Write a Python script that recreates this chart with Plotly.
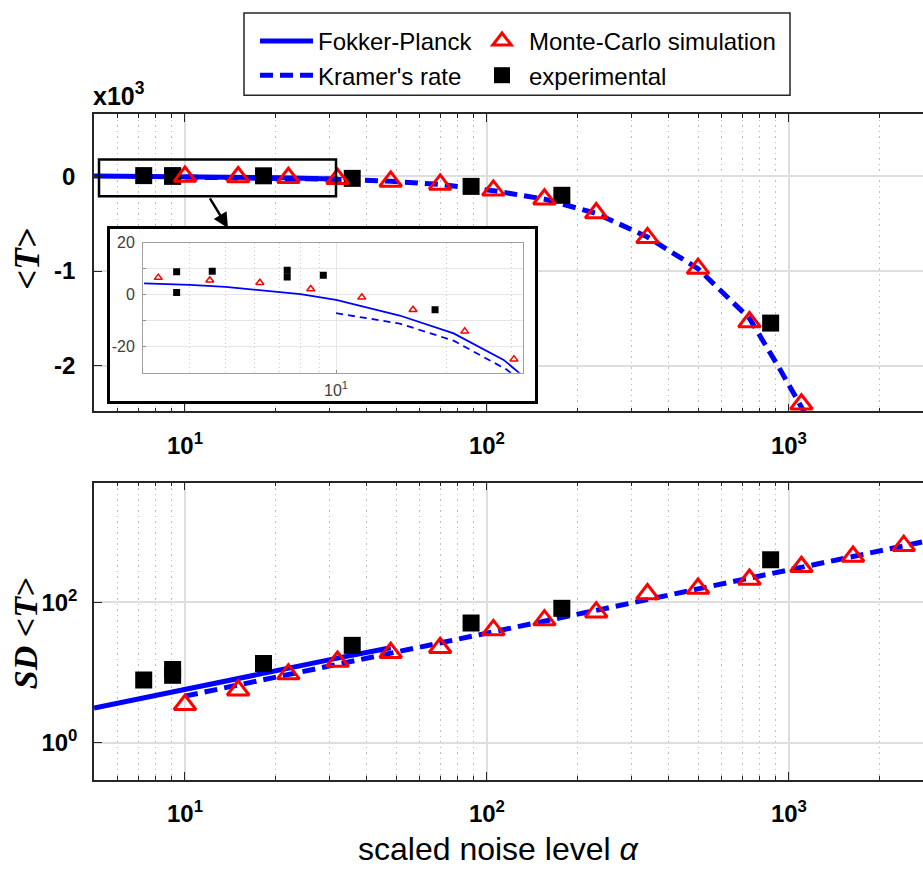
import plotly.graph_objects as go

W, H = 923, 873

# ---------------- data ----------------
# top panel: mean first-passage time <T> (raw units, axis shown in x10^3)
fp_alpha_top = [5, 6, 8, 10, 14.9, 20.9, 28.6, 33]
fp_T_top = [4.4, 2.8, 0.3, -2.0, -8.0, -14.9, -25.1, -33]
kr_alpha_top = [10, 15, 22, 32, 48, 70, 105, 155, 230, 340, 500, 740, 927, 1110, 1250]
kr_T_top = [-7, -11, -19, -30, -50, -85, -150, -240, -390, -640, -975, -1500, -2020, -2440, -2750]
mc_alpha = [10, 15, 22, 32, 48, 70, 105, 155, 230, 340, 500, 740, 1100, 1630, 2400]
mc_T = [-1, -6, -14, -25, -52, -84, -147, -241, -387, -649, -974, -1539, -2408]
exp_alpha = [7.3, 9.1, 9.1, 18.2, 35.8, 88.6, 177, 870]
exp_T = [9, 9, 1, 7, -20, -105, -199, -1550]

# bottom panel: SD <T>
fp_alpha_sd = [5, 7, 10, 15, 22, 32, 48]
fp_SD = [3.1, 4.2, 5.8, 8.2, 11.5, 16.0, 22.5]
kr_alpha_sd = [10, 15, 22, 32, 48, 70, 105, 155, 230, 340, 500, 740, 1100, 1630, 2400, 2800]
kr_SD = [4.6, 6.6, 9.2, 12.9, 18.6, 26.3, 37.5, 53, 76, 109, 155, 221, 315, 450, 640, 730]
mc_SD = [3.46, 5.57, 9.46, 14.3, 19.1, 22.5, 40.3, 55.7, 72.3, 131, 157, 211, 321, 449, 641]
exp_SD = [7.8, 11, 9.1, 13.4, 24.3, 50.6, 82, 403]

# inset (zoom of the top panel)
in_fp_alpha = [3.0, 4, 5, 6, 8, 10, 14.9, 20.9, 28.6, 31.4, 33]
in_fp_T = [4.4, 3.8, 3.0, 1.9, 0.25, -2.0, -8.0, -14.9, -25.1, -29.9, -32.7]
in_kr_alpha = [10, 14.9, 20.9, 29.2, 31]
in_kr_T = [-7.1, -11.1, -17.7, -28.9, -32]
in_mc_alpha = [3.28, 4.53, 6.2, 8.53, 11.75, 16.2, 22.4, 30.5]
in_mc_T = [6.6, 5.6, 4.6, 2.2, -1.0, -5.8, -14.1, -24.8]
in_exp_alpha = [3.68, 3.68, 4.6, 7.36, 7.36, 9.23, 18.6]
in_exp_T = [8.9, 0.9, 9.1, 9.4, 6.8, 7.5, -5.8]

# ticks
x_tickvals = [10, 100, 1000]
x_ticktext = ['10<sup>1</sup>', '10<sup>2</sup>', '10<sup>3</sup>']
x_minor = [6, 7, 8, 9, 20, 30, 40, 50, 60, 70, 80, 90,
           200, 300, 400, 500, 600, 700, 800, 900, 2000]
top_y_tickvals = [-2000, -1000, 0]
top_y_ticktext = ['-2', '-1', '0']
bot_y_tickvals = [1, 100]
bot_y_ticktext = ['10<sup>0</sup>', '10<sup>2</sup>']
in_x_tickvals = [10]
in_x_ticktext = ['10<sup>1</sup>']
in_x_minor = [4, 5, 6, 7, 8, 9, 20, 30]
in_y_tickvals = [-20, -10, 0, 10, 20]
in_y_ticktext = ['-20', '', '0', '', '20']

BLUE = '#0000ff'
RED = '#ff0000'
AX = '#262626'
FONT = 'Liberation Sans, Arial, sans-serif'
SERIF = 'Liberation Serif, Times New Roman, serif'


def px(p):
    return p / W


def py(p):
    return 1 - p / H


fig = go.Figure()

# ---- top panel ----
fig.add_trace(go.Scatter(x=fp_alpha_top, y=fp_T_top, mode='lines', name='Fokker-Planck',
                         line=dict(color=BLUE, width=5), legend='legend', xaxis='x', yaxis='y'))
fig.add_trace(go.Scatter(x=kr_alpha_top, y=kr_T_top, mode='lines', name="Kramer's rate",
                         line=dict(color=BLUE, width=5, dash='13px,7px'), legend='legend',
                         xaxis='x', yaxis='y'))
fig.add_trace(go.Scatter(x=exp_alpha, y=exp_T, mode='markers', name='experimental',
                         marker=dict(symbol='square', size=17, color='black'),
                         legend='legend2', xaxis='x', yaxis='y', cliponaxis=False))
fig.add_trace(go.Scatter(x=mc_alpha[:len(mc_T)], y=mc_T, mode='markers', name='Monte-Carlo simulation',
                         marker=dict(symbol='triangle-up-open', size=19, color=RED,
                                     line=dict(color=RED, width=3)),
                         legend='legend2', xaxis='x', yaxis='y', cliponaxis=False))

# ---- bottom panel ----
fig.add_trace(go.Scatter(x=fp_alpha_sd, y=fp_SD, mode='lines', showlegend=False,
                         line=dict(color=BLUE, width=5), xaxis='x2', yaxis='y2'))
fig.add_trace(go.Scatter(x=kr_alpha_sd, y=kr_SD, mode='lines', showlegend=False,
                         line=dict(color=BLUE, width=5, dash='13px,7px'), xaxis='x2', yaxis='y2'))
fig.add_trace(go.Scatter(x=exp_alpha, y=exp_SD, mode='markers', showlegend=False,
                         marker=dict(symbol='square', size=17, color='black'),
                         xaxis='x2', yaxis='y2', cliponaxis=False))
fig.add_trace(go.Scatter(x=mc_alpha, y=mc_SD, mode='markers', showlegend=False,
                         marker=dict(symbol='triangle-up-open', size=19, color=RED,
                                     line=dict(color=RED, width=3)),
                         xaxis='x2', yaxis='y2', cliponaxis=False))

# ---- inset frame (empty subplot giving a white, black-bordered panel) ----
fig.add_trace(go.Scatter(x=[], y=[], showlegend=False, xaxis='x3', yaxis='y3', hoverinfo='skip'))

# ---- inset ----
fig.add_trace(go.Scatter(x=in_fp_alpha, y=in_fp_T, mode='lines', showlegend=False,
                         line=dict(color=BLUE, width=1.8), xaxis='x4', yaxis='y4'))
fig.add_trace(go.Scatter(x=in_kr_alpha, y=in_kr_T, mode='lines', showlegend=False,
                         line=dict(color=BLUE, width=1.8, dash='7px,5px'), xaxis='x4', yaxis='y4'))
fig.add_trace(go.Scatter(x=in_exp_alpha, y=in_exp_T, mode='markers', showlegend=False,
                         marker=dict(symbol='square', size=7, color='black'),
                         xaxis='x4', yaxis='y4'))
fig.add_trace(go.Scatter(x=in_mc_alpha, y=in_mc_T, mode='markers', showlegend=False,
                         marker=dict(symbol='triangle-up-open', size=7, color=RED,
                                     line=dict(color=RED, width=1.5)),
                         xaxis='x4', yaxis='y4', cliponaxis=False))

tickfont = dict(family=FONT, size=24, color='black', weight='bold')


def main_x(anchor):
    return dict(type='log', range=[0.6987, 3.444], domain=[px(94), 1], anchor=anchor,
                tickmode='array', tickvals=x_tickvals, ticktext=x_ticktext,
                ticks='inside', ticklen=8, tickwidth=1, tickcolor=AX,
                showline=True, linecolor=AX, linewidth=1.5, mirror='ticks',
                showgrid=True, gridcolor='#dedede', gridwidth=1.5, zeroline=False,
                tickfont=tickfont, ticklabelstandoff=12,
                minor=dict(tickvals=x_minor, ticks='inside', ticklen=4, tickcolor=AX,
                           showgrid=True, gridcolor='#bdbdbd', griddash='1.5px,4px', gridwidth=1))


fig.update_layout(
    width=W, height=H, margin=dict(l=0, r=0, t=0, b=0),
    paper_bgcolor='white', plot_bgcolor='white',
    xaxis=main_x('y'),
    yaxis=dict(range=[-2482, 660], domain=[py(407), py(107)], anchor='x',
               tickmode='array', tickvals=top_y_tickvals, ticktext=top_y_ticktext,
               ticks='inside', ticklen=8, tickcolor=AX, showline=True, linecolor=AX,
               linewidth=1.5, showgrid=True, gridcolor='#dedede', gridwidth=1.5,
               zeroline=False, tickfont=tickfont, ticklabelstandoff=12),
    xaxis2=main_x('y2'),
    yaxis2=dict(type='log', range=[-0.531, 3.705], domain=[py(779), py(479)], anchor='x2',
                tickmode='array', tickvals=bot_y_tickvals, ticktext=bot_y_ticktext,
                ticks='inside', ticklen=8, tickcolor=AX, showline=True, linecolor=AX,
                linewidth=1.5, showgrid=True, gridcolor='#dedede', gridwidth=1.5,
                zeroline=False, tickfont=tickfont, ticklabelstandoff=10),
    xaxis3=dict(domain=[px(110), px(535)], anchor='y3', range=[0, 1], showgrid=False,
                zeroline=False, showticklabels=False, ticks='', showline=True,
                linecolor='black', linewidth=2.5, mirror=True),
    yaxis3=dict(domain=[py(397), py(223)], anchor='x3', range=[0, 1], showgrid=False,
                zeroline=False, showticklabels=False, ticks='', showline=True,
                linecolor='black', linewidth=2.5, mirror=True),
    xaxis4=dict(type='log', range=[0.4742, 1.509], domain=[px(143), px(523)], anchor='y4',
                tickmode='array', tickvals=in_x_tickvals, ticktext=in_x_ticktext,
                ticks='inside', ticklen=3, tickcolor='#909090',
                showline=True, linecolor='#a0a0a0', linewidth=1, mirror=True,
                showgrid=True, gridcolor='#e6e6e6', gridwidth=1, zeroline=False,
                tickfont=dict(family=FONT, size=16, color='#404040'), ticklabelstandoff=3,
                minor=dict(tickvals=in_x_minor, ticks='', showgrid=True, gridcolor='#d0d0d0',
                           griddash='1px,3px', gridwidth=1)),
    yaxis4=dict(range=[-30, 20], domain=[py(368), py(237)], anchor='x4',
                tickmode='array', tickvals=in_y_tickvals, ticktext=in_y_ticktext,
                ticks='inside', ticklen=3, tickcolor='#909090',
                showline=True, linecolor='#a0a0a0', linewidth=1, mirror=True,
                showgrid=True, gridcolor='#e6e6e6', gridwidth=1, zeroline=False,
                tickfont=dict(family=FONT, size=16, color='#404040'), ticklabelstandoff=4),
    legend=dict(x=px(255), y=py(11), xanchor='left', yanchor='top', bgcolor='rgba(0,0,0,0)',
                borderwidth=0, font=dict(family=FONT, size=24, color='black'), itemwidth=53,
                tracegroupgap=0),
    legend2=dict(x=px(475), y=py(11), xanchor='left', yanchor='top', bgcolor='rgba(0,0,0,0)',
                 borderwidth=0, font=dict(family=FONT, size=24, color='black'), itemwidth=44,
                 tracegroupgap=0, traceorder='reversed'),
    showlegend=True,
)

shapes = [
    # legend border
    dict(type='rect', xref='paper', yref='paper', x0=px(244), x1=px(790), y0=py(88), y1=py(5),
         line=dict(color=AX, width=1.5), fillcolor='rgba(0,0,0,0)', layer='above'),
    # zoom rectangle on the top panel
    dict(type='rect', xref='paper', yref='paper', x0=px(99), x1=px(336), y0=py(190), y1=py(153),
         line=dict(color='black', width=2.5), fillcolor='rgba(0,0,0,0)', layer='above'),
]
fig.update_layout(shapes=shapes)

annotations = [
    dict(x=px(228), y=py(222), xref='paper', yref='paper', text='', showarrow=True,
         ax=-19, ay=-31, arrowhead=2, arrowsize=1.2, arrowwidth=2.5, arrowcolor='black'),
    dict(x=px(91), y=py(87), xref='paper', yref='paper', text='x10<sup>3</sup>',
         showarrow=False, xanchor='left', yanchor='middle',
         font=dict(family=FONT, size=25, color='black', weight='bold')),
    dict(x=px(28), y=py(254), xref='paper', yref='paper', text='<i>&lt;T&gt;</i>',
         showarrow=False, textangle=-90, xanchor='center', yanchor='middle',
         font=dict(family=SERIF, size=35, color='black', weight='bold')),
    dict(x=px(25), y=py(632), xref='paper', yref='paper', text='<i>SD &lt;T&gt;</i>',
         showarrow=False, textangle=-90, xanchor='center', yanchor='middle',
         font=dict(family=SERIF, size=34, color='black', weight='bold')),
    dict(x=px(498), y=py(849), xref='paper', yref='paper', text='scaled noise level <i>α</i>',
         showarrow=False, xanchor='center', yanchor='middle',
         font=dict(family=FONT, size=32, color='black')),
]
fig.update_layout(annotations=annotations)

fig.write_html('out.html')
